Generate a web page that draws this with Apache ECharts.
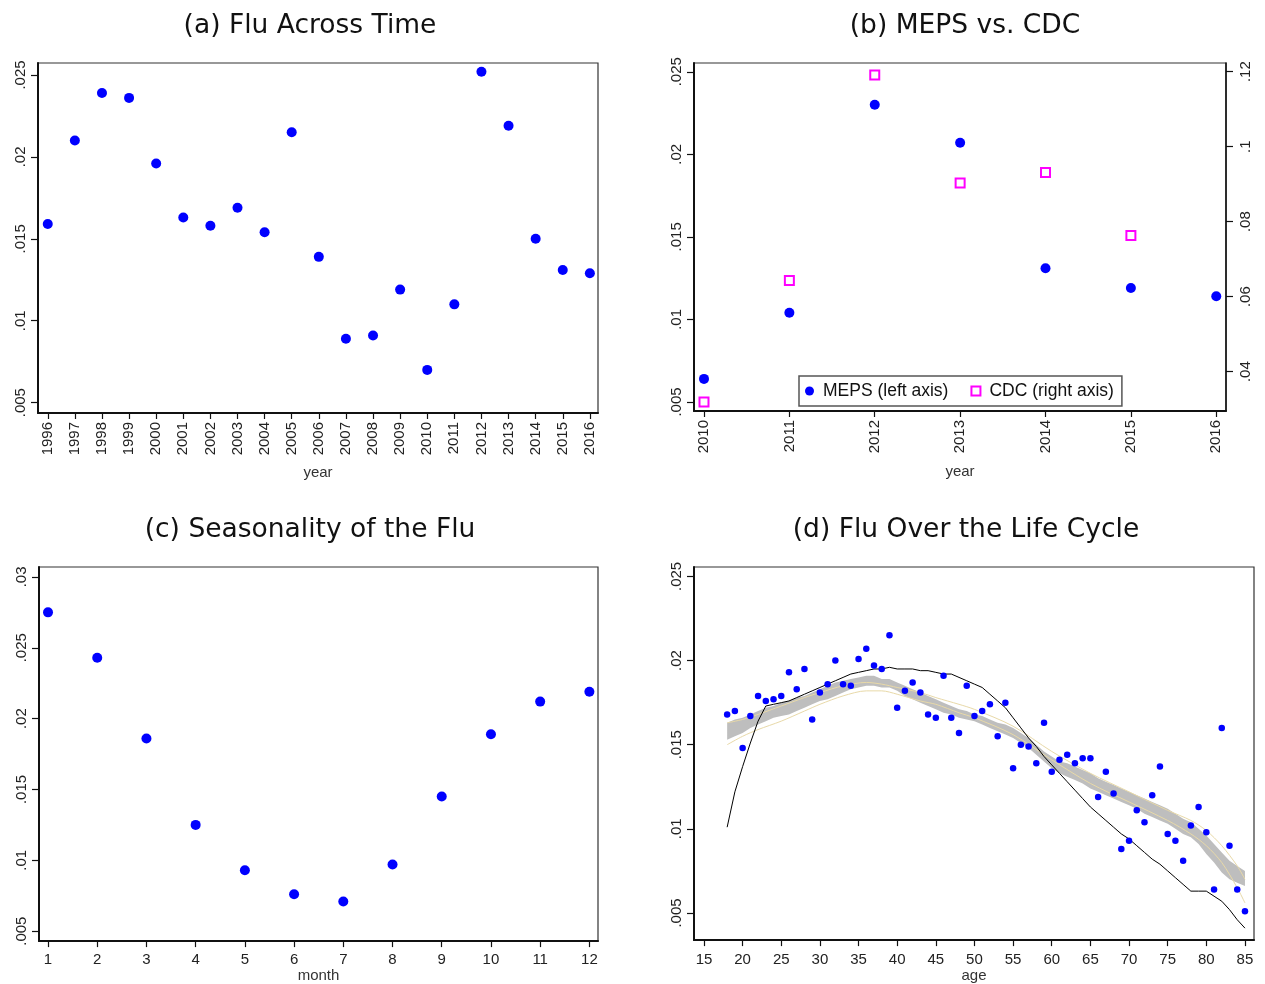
<!DOCTYPE html>
<html>
<head>
<meta charset="utf-8">
<script src="https://cdn.jsdelivr.net/npm/echarts@6/dist/echarts.min.js"></script>
<style>
  html, body { margin: 0; padding: 0; background: #fff; }
  #chart { width: 1265px; height: 984px; }
</style>
</head>
<body>
<div id="chart"></div>
<script>
// ---------- (a) Flu Across Time ----------
const yearsA = [1996, 1997, 1998, 1999, 2000, 2001, 2002, 2003, 2004, 2005, 2006,
                2007, 2008, 2009, 2010, 2011, 2012, 2013, 2014, 2015, 2016];
const fluRateByYear = [0.0159, 0.0210, 0.0239, 0.0236, 0.0196, 0.0163, 0.0158, 0.0169, 0.0154, 0.0215, 0.0139,
                       0.0089, 0.0091, 0.0119, 0.0070, 0.0110, 0.0252, 0.0219, 0.0150, 0.0131, 0.0129];
const yTicksA = [0.005, 0.01, 0.015, 0.02, 0.025];

// ---------- (b) MEPS vs. CDC ----------
const yearsB = [2010, 2011, 2012, 2013, 2014, 2015, 2016];
const mepsRate = [0.0064, 0.0104, 0.0230, 0.0207, 0.0131, 0.0119, 0.0114];
const cdcRate = [0.0319, 0.0643, 0.1191, 0.0903, 0.0931, 0.0763, null];
const yTicksBLeft = [0.005, 0.01, 0.015, 0.02, 0.025];
const yTicksBRight = [0.04, 0.06, 0.08, 0.1, 0.12];

// ---------- (c) Seasonality of the Flu ----------
const months = [1, 2, 3, 4, 5, 6, 7, 8, 9, 10, 11, 12];
const fluRateByMonth = [0.0275, 0.0243, 0.0186, 0.0125, 0.0093, 0.0076, 0.0071, 0.0097, 0.0145, 0.0189, 0.0212, 0.0219];
const yTicksC = [0.005, 0.01, 0.015, 0.02, 0.025, 0.03];

// ---------- (d) Flu Over the Life Cycle ----------
const ages = [18, 19, 20, 21, 22, 23, 24, 25, 26, 27, 28, 29, 30, 31, 32, 33, 34, 35, 36, 37,
              38, 39, 40, 41, 42, 43, 44, 45, 46, 47, 48, 49, 50, 51, 52, 53, 54, 55, 56, 57,
              58, 59, 60, 61, 62, 63, 64, 65, 66, 67, 68, 69, 70, 71, 72, 73, 74, 75, 76, 77,
              78, 79, 80, 81, 82, 83, 84, 85];
const fluRateByAge = [0.0168, 0.0170, 0.0148, 0.0167, 0.0179, 0.0176, 0.0177, 0.0179, 0.0193, 0.0183,
                      0.0195, 0.0165, 0.0181, 0.0186, 0.0200, 0.0186, 0.0185, 0.0201, 0.0207, 0.0197,
                      0.0195, 0.0215, 0.0172, 0.0182, 0.0187, 0.0181, 0.0168, 0.0166, 0.0191, 0.0166,
                      0.0157, 0.0185, 0.0167, 0.0170, 0.0174, 0.0155, 0.0175, 0.0136, 0.0150, 0.0149,
                      0.0139, 0.0163, 0.0134, 0.0141, 0.0144, 0.0139, 0.0142, 0.0142, 0.0119, 0.0134,
                      0.0121, 0.0088, 0.0093, 0.0111, 0.0104, 0.0120, 0.0137, 0.0097, 0.0093, 0.0081,
                      0.0102, 0.0113, 0.0098, 0.0064, 0.0160, 0.0090, 0.0064, 0.0051];
// running-mean smoother
const lowessFit = [0.0101, 0.0122, 0.0137, 0.0151, 0.0164, 0.0173, 0.0174, 0.0175, 0.0176, 0.0178,
                   0.0180, 0.0182, 0.0184, 0.0186, 0.0188, 0.0190, 0.0192, 0.0193, 0.0194, 0.0195,
                   0.0195, 0.0196, 0.0195, 0.0195, 0.0195, 0.0194, 0.0194, 0.0193, 0.0192, 0.0192,
                   0.0190, 0.0188, 0.0186, 0.0184, 0.0180, 0.0176, 0.0172, 0.0166, 0.0160, 0.0154,
                   0.0149, 0.0143, 0.0138, 0.0133, 0.0128, 0.0123, 0.0118, 0.0113, 0.0109, 0.0105,
                   0.0101, 0.0097, 0.0094, 0.0090, 0.0086, 0.0082, 0.0079, 0.0075, 0.0071, 0.0067,
                   0.0063, 0.0063, 0.0063, 0.0060, 0.0057, 0.0052, 0.0046, 0.0041];
// local-polynomial 95% band
const bandLow = [0.0153, 0.0155, 0.0157, 0.0160, 0.0162, 0.0164, 0.0166, 0.0167, 0.0168, 0.0170,
                 0.0172, 0.0174, 0.0176, 0.0177, 0.0179, 0.0181, 0.0183, 0.0184, 0.0185, 0.0185,
                 0.0184, 0.0184, 0.0182, 0.0179, 0.0177, 0.0175, 0.0173, 0.0171, 0.0169, 0.0168,
                 0.0166, 0.0165, 0.0164, 0.0162, 0.0160, 0.0158, 0.0156, 0.0154, 0.0151, 0.0148,
                 0.0144, 0.0140, 0.0136, 0.0133, 0.0131, 0.0129, 0.0127, 0.0124, 0.0122, 0.0120,
                 0.0118, 0.0116, 0.0114, 0.0112, 0.0109, 0.0107, 0.0105, 0.0103, 0.0100, 0.0097,
                 0.0095, 0.0091, 0.0085, 0.0080, 0.0074, 0.0070, 0.0068, 0.0066];
const bandHigh = [0.0163, 0.0165, 0.0166, 0.0168, 0.0170, 0.0172, 0.0173, 0.0175, 0.0176, 0.0178,
                  0.0179, 0.0181, 0.0183, 0.0185, 0.0187, 0.0188, 0.0189, 0.0190, 0.0191, 0.0191,
                  0.0189, 0.0189, 0.0187, 0.0185, 0.0183, 0.0181, 0.0179, 0.0177, 0.0175, 0.0173,
                  0.0171, 0.0170, 0.0168, 0.0167, 0.0165, 0.0163, 0.0162, 0.0160, 0.0157, 0.0154,
                  0.0150, 0.0146, 0.0143, 0.0140, 0.0139, 0.0137, 0.0135, 0.0133, 0.0130, 0.0128,
                  0.0126, 0.0124, 0.0122, 0.0120, 0.0118, 0.0116, 0.0114, 0.0112, 0.0109, 0.0106,
                  0.0104, 0.0100, 0.0096, 0.0091, 0.0086, 0.0081, 0.0078, 0.0075];
// polynomial fit confidence limits
const fitAges = [18, 20, 22, 25, 28, 30, 33, 36, 38, 40, 43, 45, 48, 50, 55, 60, 65, 70, 75, 78, 80, 82, 84, 85];
const fitCiHigh = [0.0163, 0.0165, 0.0168, 0.0173, 0.0178, 0.0181, 0.0185, 0.0187, 0.0186, 0.0184, 0.0181, 0.0178,
                   0.0174, 0.0171, 0.0161, 0.0146, 0.0133, 0.0122, 0.0111, 0.0105, 0.0099, 0.0090, 0.0078, 0.0070];
const fitCiLow = [0.0150, 0.0155, 0.0159, 0.0164, 0.0170, 0.0174, 0.0179, 0.0182, 0.0182, 0.0180, 0.0176, 0.0174,
                  0.0169, 0.0166, 0.0156, 0.0141, 0.0127, 0.0116, 0.0105, 0.0097, 0.0090, 0.0080, 0.0065, 0.0056];
const xTicksD = [15, 20, 25, 30, 35, 40, 45, 50, 55, 60, 65, 70, 75, 80, 85];
const yTicksD = [0.005, 0.01, 0.015, 0.02, 0.025];

// ---------- shared styling ----------
const BLUE = '#0000ff';
const MAGENTA = '#ff00ff';
const tickFont = { fontFamily: '"Liberation Sans", Arial, sans-serif', fontSize: 15, color: '#222' };
const titleFont = { fontFamily: '"DejaVu Sans", sans-serif', fontSize: 26.5, fontWeight: 'normal', color: '#111' };

// ".025" style tick labels
function shortNum(v) {
  return String(Number(v.toFixed(4))).replace(/^0\./, '.');
}

function xAxisCfg(grid, min, max, ticks, opts) {
  return {
    type: 'value', gridIndex: grid, min: min, max: max,
    splitLine: { show: false },
    axisLine: { show: true, onZero: false, lineStyle: { color: '#111', width: 2 } },
    axisTick: { show: true, customValues: ticks, length: 6, lineStyle: { color: '#111', width: 1.2 } },
    axisLabel: Object.assign({ customValues: ticks, margin: opts.margin, rotate: opts.rotate || 0,
                               formatter: v => String(v) }, tickFont),
    name: opts.name, nameLocation: 'middle', nameGap: opts.nameGap,
    nameTextStyle: Object.assign({}, tickFont, { color: '#333' })
  };
}

function yAxisCfg(grid, min, max, ticks, opts) {
  opts = opts || {};
  return {
    type: 'value', gridIndex: grid, min: min, max: max, position: opts.position || 'left',
    splitLine: { show: false },
    axisLine: { show: true, onZero: false, lineStyle: { color: '#111', width: opts.lineWidth || 2 } },
    axisTick: { show: true, customValues: ticks, length: 7, lineStyle: { color: '#111', width: 1.2 } },
    axisLabel: Object.assign({ customValues: ticks, rotate: 90, margin: opts.margin || 10,
                               formatter: shortNum }, tickFont)
  };
}

const frame = { show: true, borderColor: '#333', borderWidth: 1.2, backgroundColor: 'transparent' };
const dot = { color: BLUE, opacity: 1 };

const chart = echarts.init(document.getElementById('chart'), null, { renderer: 'canvas' });

chart.setOption({
  backgroundColor: '#fff',
  animation: false,
  title: [
    { text: '(a) Flu Across Time', left: 305, top: 8, textAlign: 'center', textStyle: titleFont },
    { text: '(b) MEPS vs. CDC', left: 960, top: 8, textAlign: 'center', textStyle: titleFont },
    { text: '(c) Seasonality of the Flu', left: 305, top: 512, textAlign: 'center', textStyle: titleFont },
    { text: '(d) Flu Over the Life Cycle', left: 961, top: 512, textAlign: 'center', textStyle: titleFont }
  ],
  grid: [
    Object.assign({ left: 38, top: 63, width: 560, height: 350 }, frame),
    Object.assign({ left: 694, top: 63, width: 532, height: 348 }, frame),
    Object.assign({ left: 39, top: 567, width: 559, height: 376 }, frame),
    Object.assign({ left: 694, top: 567, width: 560, height: 375 }, frame)
  ],
  xAxis: [
    xAxisCfg(0, 1995.64, 2016.3, yearsA, { rotate: 90, margin: 9, name: 'year', nameGap: 52 }),
    xAxisCfg(1, 2009.883, 2016.114, yearsB, { rotate: 90, margin: 9, name: 'year', nameGap: 53 }),
    xAxisCfg(2, 0.817, 12.175, months, { margin: 11, name: 'month', nameGap: 24 }),
    xAxisCfg(3, 13.71, 86.17, xTicksD, { margin: 12, name: 'age', nameGap: 25 })
  ],
  yAxis: [
    yAxisCfg(0, 0.00437, 0.02573, yTicksA),
    yAxisCfg(1, 0.004455, 0.02553, yTicksBLeft),
    yAxisCfg(1, 0.02952, 0.1223, yTicksBRight, { position: 'right', margin: 12, lineWidth: 1.5 }),
    yAxisCfg(2, 0.0043, 0.0307, yTicksC),
    yAxisCfg(3, 0.00339, 0.02556, yTicksD)
  ],
  legend: {
    left: 799, top: 376,
    orient: 'horizontal',
    padding: [6, 8, 6, 6],
    itemGap: 22, itemWidth: 9, itemHeight: 9,
    borderColor: '#555', borderWidth: 1.5, backgroundColor: '#fff',
    textStyle: { fontFamily: '"Liberation Sans", Arial, sans-serif', fontSize: 17.5, color: '#111', padding: [0, 0, 0, 4] },
    data: [
      { name: 'MEPS (left axis)', icon: 'circle' },
      { name: 'CDC (right axis)', icon: 'rect' }
    ]
  },
  series: [
    // (a)
    {
      type: 'scatter', xAxisIndex: 0, yAxisIndex: 0, symbol: 'circle', symbolSize: 10,
      itemStyle: dot,
      data: yearsA.map((y, i) => [y, fluRateByYear[i]])
    },
    // (b)
    {
      name: 'MEPS (left axis)', type: 'scatter', xAxisIndex: 1, yAxisIndex: 1, symbol: 'circle', symbolSize: 10,
      itemStyle: dot,
      data: yearsB.map((y, i) => [y, mepsRate[i]])
    },
    {
      name: 'CDC (right axis)', type: 'scatter', xAxisIndex: 1, yAxisIndex: 2, symbol: 'rect', symbolSize: 9,
      itemStyle: { color: '#fff', borderColor: MAGENTA, borderWidth: 2, opacity: 1 },
      data: yearsB.map((y, i) => [y, cdcRate[i]]).filter(d => d[1] !== null)
    },
    // (c)
    {
      type: 'scatter', xAxisIndex: 2, yAxisIndex: 3, symbol: 'circle', symbolSize: 10,
      itemStyle: dot,
      data: months.map((m, i) => [m, fluRateByMonth[i]])
    },
    // (d) shaded band
    {
      type: 'custom', xAxisIndex: 3, yAxisIndex: 4, silent: true, z: 1,
      data: [[ages[0], bandLow[0]]],
      renderItem: function (params, api) {
        const pts = [];
        for (let i = 0; i < ages.length; i++) pts.push(api.coord([ages[i], bandHigh[i]]));
        for (let i = ages.length - 1; i >= 0; i--) pts.push(api.coord([ages[i], bandLow[i]]));
        return { type: 'polygon', shape: { points: pts }, style: { fill: '#bebebe' } };
      }
    },
    {
      type: 'line', xAxisIndex: 3, yAxisIndex: 4, symbol: 'none', smooth: 0.3, silent: true, z: 2,
      lineStyle: { color: '#e8d9a8', width: 1 },
      data: fitAges.map((a, i) => [a, fitCiHigh[i]])
    },
    {
      type: 'line', xAxisIndex: 3, yAxisIndex: 4, symbol: 'none', smooth: 0.3, silent: true, z: 2,
      lineStyle: { color: '#e8d9a8', width: 1 },
      data: fitAges.map((a, i) => [a, fitCiLow[i]])
    },
    {
      type: 'line', xAxisIndex: 3, yAxisIndex: 4, symbol: 'none', silent: true, z: 3,
      lineStyle: { color: '#000', width: 1 },
      data: ages.map((a, i) => [a, lowessFit[i]])
    },
    {
      type: 'scatter', xAxisIndex: 3, yAxisIndex: 4, symbol: 'circle', symbolSize: 6.5, z: 4,
      itemStyle: dot,
      data: ages.map((a, i) => [a, fluRateByAge[i]])
    }
  ]
});
</script>
</body>
</html>
